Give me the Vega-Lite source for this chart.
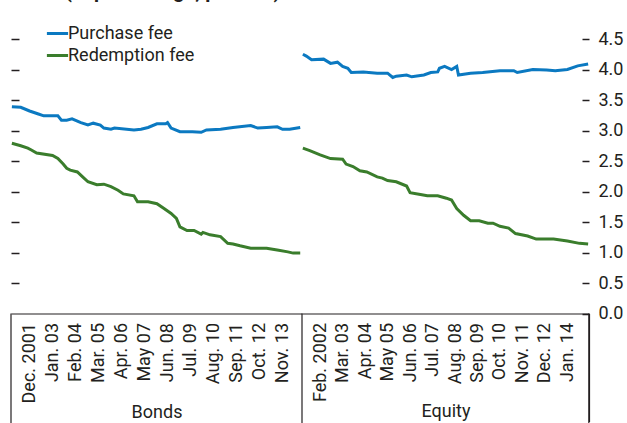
{
  "$schema": "https://vega.github.io/schema/vega-lite/v6.json",
  "autosize": "none",
  "width": 578,
  "height": 274.5,
  "padding": {"left": 11, "top": 39, "right": 38, "bottom": 109.5},
  "title": {"text": "(In percentage, percent)", "anchor": "start", "frame": "group", "fontSize": 20, "fontWeight": "bold", "font": "Roboto", "color": "#231f20", "dx": 54, "offset": 19},
  "config": {
    "view": {"stroke": null},
    "font": "Roboto",
    "axis": {"labelFont": "Roboto", "titleFont": "Roboto", "labelFontSize": 18, "titleFontSize": 18, "titleFontWeight": "normal", "labelColor": "#231f20", "titleColor": "#231f20", "tickColor": "#231f20", "domainColor": "#231f20", "grid": false, "tickCount": 40},
    "legend": {"labelFont": "Roboto", "labelFontSize": 18, "labelColor": "#231f20"}
  },
  "datasets": {
    "fees": [
      {"asset": "Bonds", "series": "Purchase fee", "i": 0, "value": 3.39},
      {"asset": "Bonds", "series": "Purchase fee", "i": 5, "value": 3.38},
      {"asset": "Bonds", "series": "Purchase fee", "i": 10, "value": 3.32},
      {"asset": "Bonds", "series": "Purchase fee", "i": 15, "value": 3.27},
      {"asset": "Bonds", "series": "Purchase fee", "i": 18, "value": 3.24},
      {"asset": "Bonds", "series": "Purchase fee", "i": 26, "value": 3.24},
      {"asset": "Bonds", "series": "Purchase fee", "i": 28, "value": 3.17},
      {"asset": "Bonds", "series": "Purchase fee", "i": 31, "value": 3.17},
      {"asset": "Bonds", "series": "Purchase fee", "i": 34, "value": 3.19},
      {"asset": "Bonds", "series": "Purchase fee", "i": 39, "value": 3.13},
      {"asset": "Bonds", "series": "Purchase fee", "i": 43, "value": 3.09},
      {"asset": "Bonds", "series": "Purchase fee", "i": 46, "value": 3.12},
      {"asset": "Bonds", "series": "Purchase fee", "i": 50, "value": 3.09},
      {"asset": "Bonds", "series": "Purchase fee", "i": 52, "value": 3.04},
      {"asset": "Bonds", "series": "Purchase fee", "i": 56, "value": 3.02},
      {"asset": "Bonds", "series": "Purchase fee", "i": 58, "value": 3.04},
      {"asset": "Bonds", "series": "Purchase fee", "i": 69, "value": 3.01},
      {"asset": "Bonds", "series": "Purchase fee", "i": 73, "value": 3.02},
      {"asset": "Bonds", "series": "Purchase fee", "i": 77, "value": 3.05},
      {"asset": "Bonds", "series": "Purchase fee", "i": 82, "value": 3.11},
      {"asset": "Bonds", "series": "Purchase fee", "i": 87, "value": 3.11},
      {"asset": "Bonds", "series": "Purchase fee", "i": 88, "value": 3.13},
      {"asset": "Bonds", "series": "Purchase fee", "i": 90, "value": 3.04},
      {"asset": "Bonds", "series": "Purchase fee", "i": 95, "value": 2.98},
      {"asset": "Bonds", "series": "Purchase fee", "i": 102, "value": 2.98},
      {"asset": "Bonds", "series": "Purchase fee", "i": 107, "value": 2.97},
      {"asset": "Bonds", "series": "Purchase fee", "i": 110, "value": 3.01},
      {"asset": "Bonds", "series": "Purchase fee", "i": 118, "value": 3.02},
      {"asset": "Bonds", "series": "Purchase fee", "i": 125, "value": 3.05},
      {"asset": "Bonds", "series": "Purchase fee", "i": 135, "value": 3.08},
      {"asset": "Bonds", "series": "Purchase fee", "i": 139, "value": 3.04},
      {"asset": "Bonds", "series": "Purchase fee", "i": 144, "value": 3.05},
      {"asset": "Bonds", "series": "Purchase fee", "i": 150, "value": 3.06},
      {"asset": "Bonds", "series": "Purchase fee", "i": 153, "value": 3.02},
      {"asset": "Bonds", "series": "Purchase fee", "i": 157, "value": 3.02},
      {"asset": "Bonds", "series": "Purchase fee", "i": 163, "value": 3.05},
      {"asset": "Bonds", "series": "Redemption fee", "i": 0, "value": 2.79},
      {"asset": "Bonds", "series": "Redemption fee", "i": 5, "value": 2.75},
      {"asset": "Bonds", "series": "Redemption fee", "i": 9, "value": 2.71},
      {"asset": "Bonds", "series": "Redemption fee", "i": 11, "value": 2.68},
      {"asset": "Bonds", "series": "Redemption fee", "i": 14, "value": 2.63},
      {"asset": "Bonds", "series": "Redemption fee", "i": 23, "value": 2.59},
      {"asset": "Bonds", "series": "Redemption fee", "i": 26, "value": 2.54},
      {"asset": "Bonds", "series": "Redemption fee", "i": 29, "value": 2.45},
      {"asset": "Bonds", "series": "Redemption fee", "i": 31, "value": 2.38},
      {"asset": "Bonds", "series": "Redemption fee", "i": 33, "value": 2.35},
      {"asset": "Bonds", "series": "Redemption fee", "i": 37, "value": 2.32},
      {"asset": "Bonds", "series": "Redemption fee", "i": 40, "value": 2.24},
      {"asset": "Bonds", "series": "Redemption fee", "i": 43, "value": 2.16},
      {"asset": "Bonds", "series": "Redemption fee", "i": 48, "value": 2.11},
      {"asset": "Bonds", "series": "Redemption fee", "i": 52, "value": 2.12},
      {"asset": "Bonds", "series": "Redemption fee", "i": 56, "value": 2.08},
      {"asset": "Bonds", "series": "Redemption fee", "i": 60, "value": 2.02},
      {"asset": "Bonds", "series": "Redemption fee", "i": 63, "value": 1.96},
      {"asset": "Bonds", "series": "Redemption fee", "i": 69, "value": 1.93},
      {"asset": "Bonds", "series": "Redemption fee", "i": 71, "value": 1.83},
      {"asset": "Bonds", "series": "Redemption fee", "i": 77, "value": 1.83},
      {"asset": "Bonds", "series": "Redemption fee", "i": 82, "value": 1.8},
      {"asset": "Bonds", "series": "Redemption fee", "i": 86, "value": 1.72},
      {"asset": "Bonds", "series": "Redemption fee", "i": 90, "value": 1.64},
      {"asset": "Bonds", "series": "Redemption fee", "i": 93, "value": 1.56},
      {"asset": "Bonds", "series": "Redemption fee", "i": 95, "value": 1.42},
      {"asset": "Bonds", "series": "Redemption fee", "i": 99, "value": 1.36},
      {"asset": "Bonds", "series": "Redemption fee", "i": 103, "value": 1.36},
      {"asset": "Bonds", "series": "Redemption fee", "i": 107, "value": 1.3},
      {"asset": "Bonds", "series": "Redemption fee", "i": 108, "value": 1.33},
      {"asset": "Bonds", "series": "Redemption fee", "i": 112, "value": 1.29},
      {"asset": "Bonds", "series": "Redemption fee", "i": 118, "value": 1.26},
      {"asset": "Bonds", "series": "Redemption fee", "i": 122, "value": 1.15},
      {"asset": "Bonds", "series": "Redemption fee", "i": 125, "value": 1.14},
      {"asset": "Bonds", "series": "Redemption fee", "i": 129, "value": 1.11},
      {"asset": "Bonds", "series": "Redemption fee", "i": 135, "value": 1.07},
      {"asset": "Bonds", "series": "Redemption fee", "i": 144, "value": 1.07},
      {"asset": "Bonds", "series": "Redemption fee", "i": 150, "value": 1.04},
      {"asset": "Bonds", "series": "Redemption fee", "i": 156, "value": 1.01},
      {"asset": "Bonds", "series": "Redemption fee", "i": 159, "value": 0.99},
      {"asset": "Bonds", "series": "Redemption fee", "i": 163, "value": 0.99},
      {"asset": "Equity", "series": "Purchase fee", "i": 0, "value": 4.25},
      {"asset": "Equity", "series": "Purchase fee", "i": 2, "value": 4.22},
      {"asset": "Equity", "series": "Purchase fee", "i": 5, "value": 4.16},
      {"asset": "Equity", "series": "Purchase fee", "i": 12, "value": 4.17},
      {"asset": "Equity", "series": "Purchase fee", "i": 16, "value": 4.1},
      {"asset": "Equity", "series": "Purchase fee", "i": 20, "value": 4.12},
      {"asset": "Equity", "series": "Purchase fee", "i": 23, "value": 4.05},
      {"asset": "Equity", "series": "Purchase fee", "i": 26, "value": 4.02},
      {"asset": "Equity", "series": "Purchase fee", "i": 28, "value": 3.95},
      {"asset": "Equity", "series": "Purchase fee", "i": 35, "value": 3.96},
      {"asset": "Equity", "series": "Purchase fee", "i": 43, "value": 3.94},
      {"asset": "Equity", "series": "Purchase fee", "i": 49, "value": 3.94},
      {"asset": "Equity", "series": "Purchase fee", "i": 52, "value": 3.87},
      {"asset": "Equity", "series": "Purchase fee", "i": 54, "value": 3.89},
      {"asset": "Equity", "series": "Purchase fee", "i": 60, "value": 3.91},
      {"asset": "Equity", "series": "Purchase fee", "i": 63, "value": 3.88},
      {"asset": "Equity", "series": "Purchase fee", "i": 70, "value": 3.91},
      {"asset": "Equity", "series": "Purchase fee", "i": 74, "value": 3.95},
      {"asset": "Equity", "series": "Purchase fee", "i": 78, "value": 3.96},
      {"asset": "Equity", "series": "Purchase fee", "i": 79, "value": 4.02},
      {"asset": "Equity", "series": "Purchase fee", "i": 82, "value": 4.05},
      {"asset": "Equity", "series": "Purchase fee", "i": 86, "value": 4.0},
      {"asset": "Equity", "series": "Purchase fee", "i": 89, "value": 4.05},
      {"asset": "Equity", "series": "Purchase fee", "i": 90, "value": 3.91},
      {"asset": "Equity", "series": "Purchase fee", "i": 97, "value": 3.94},
      {"asset": "Equity", "series": "Purchase fee", "i": 104, "value": 3.95},
      {"asset": "Equity", "series": "Purchase fee", "i": 114, "value": 3.98},
      {"asset": "Equity", "series": "Purchase fee", "i": 122, "value": 3.98},
      {"asset": "Equity", "series": "Purchase fee", "i": 124, "value": 3.95},
      {"asset": "Equity", "series": "Purchase fee", "i": 133, "value": 4.0},
      {"asset": "Equity", "series": "Purchase fee", "i": 141, "value": 3.99},
      {"asset": "Equity", "series": "Purchase fee", "i": 146, "value": 3.98},
      {"asset": "Equity", "series": "Purchase fee", "i": 153, "value": 4.0},
      {"asset": "Equity", "series": "Purchase fee", "i": 159, "value": 4.06},
      {"asset": "Equity", "series": "Purchase fee", "i": 165, "value": 4.09},
      {"asset": "Equity", "series": "Redemption fee", "i": 0, "value": 2.71},
      {"asset": "Equity", "series": "Redemption fee", "i": 4, "value": 2.67},
      {"asset": "Equity", "series": "Redemption fee", "i": 10, "value": 2.6},
      {"asset": "Equity", "series": "Redemption fee", "i": 16, "value": 2.54},
      {"asset": "Equity", "series": "Redemption fee", "i": 23, "value": 2.53},
      {"asset": "Equity", "series": "Redemption fee", "i": 25, "value": 2.45},
      {"asset": "Equity", "series": "Redemption fee", "i": 29, "value": 2.41},
      {"asset": "Equity", "series": "Redemption fee", "i": 33, "value": 2.34},
      {"asset": "Equity", "series": "Redemption fee", "i": 37, "value": 2.32},
      {"asset": "Equity", "series": "Redemption fee", "i": 43, "value": 2.24},
      {"asset": "Equity", "series": "Redemption fee", "i": 46, "value": 2.22},
      {"asset": "Equity", "series": "Redemption fee", "i": 49, "value": 2.18},
      {"asset": "Equity", "series": "Redemption fee", "i": 54, "value": 2.16},
      {"asset": "Equity", "series": "Redemption fee", "i": 60, "value": 2.09},
      {"asset": "Equity", "series": "Redemption fee", "i": 62, "value": 1.98},
      {"asset": "Equity", "series": "Redemption fee", "i": 68, "value": 1.95},
      {"asset": "Equity", "series": "Redemption fee", "i": 72, "value": 1.93},
      {"asset": "Equity", "series": "Redemption fee", "i": 78, "value": 1.93},
      {"asset": "Equity", "series": "Redemption fee", "i": 83, "value": 1.89},
      {"asset": "Equity", "series": "Redemption fee", "i": 86, "value": 1.86},
      {"asset": "Equity", "series": "Redemption fee", "i": 89, "value": 1.72},
      {"asset": "Equity", "series": "Redemption fee", "i": 93, "value": 1.61},
      {"asset": "Equity", "series": "Redemption fee", "i": 97, "value": 1.52},
      {"asset": "Equity", "series": "Redemption fee", "i": 102, "value": 1.52},
      {"asset": "Equity", "series": "Redemption fee", "i": 107, "value": 1.48},
      {"asset": "Equity", "series": "Redemption fee", "i": 110, "value": 1.48},
      {"asset": "Equity", "series": "Redemption fee", "i": 114, "value": 1.43},
      {"asset": "Equity", "series": "Redemption fee", "i": 119, "value": 1.4},
      {"asset": "Equity", "series": "Redemption fee", "i": 123, "value": 1.31},
      {"asset": "Equity", "series": "Redemption fee", "i": 130, "value": 1.27},
      {"asset": "Equity", "series": "Redemption fee", "i": 135, "value": 1.22},
      {"asset": "Equity", "series": "Redemption fee", "i": 145, "value": 1.22},
      {"asset": "Equity", "series": "Redemption fee", "i": 153, "value": 1.19},
      {"asset": "Equity", "series": "Redemption fee", "i": 160, "value": 1.15},
      {"asset": "Equity", "series": "Redemption fee", "i": 165, "value": 1.14}
    ],
    "panelEdges": [{"edge": -0.5}, {"edge": 164}],
    "equityEdges": [{"edge": 165.4}]
  },
  "layer": [
    {
      "layer": [
        {
          "data": {"name": "fees"},
          "transform": [{"filter": "datum.asset === 'Bonds'"}],
          "mark": {"type": "line", "strokeWidth": 3},
          "encoding": {
            "x": {"field": "i", "type": "quantitative", "scale": {"domain": [-0.5, 164], "range": [0, 291], "nice": false, "zero": false},
              "axis": {"orient": "bottom", "title": "Bonds", "values": [10, 23, 36, 49, 62, 75, 88, 101, 114, 127, 140, 153],
                "labelExpr": "['Dec. 2001','Jan. 03','Feb. 04','Mar. 05','Apr. 06','May 07','Jun. 08','Jul. 09','Aug. 10','Sep. 11','Oct. 12','Nov. 13'][round((datum.value - 10) / 13)]",
                "labelAngle": 270, "labelAlign": "right", "labelBaseline": "middle", "ticks": false, "domain": true, "domainWidth": 1.2, "labelPadding": 9, "titlePadding": 1, "labelFlush": false, "labelOverlap": false}},
            "y": {"field": "value", "type": "quantitative", "scale": {"domain": [0, 4.5], "nice": false},
              "axis": {"orient": "left", "title": null, "values": [0.5, 1, 1.5, 2, 2.5, 3, 3.5, 4, 4.5], "labels": false, "domain": false, "tickSize": -8, "tickWidth": 1.5}},
            "color": {"field": "series", "type": "nominal",
              "scale": {"domain": ["Purchase fee", "Redemption fee"], "range": ["#0b79c1", "#3a7d2c"]},
              "legend": {"orient": "none", "legendX": 34, "legendY": -18, "title": null, "symbolType": "stroke", "symbolStrokeWidth": 3, "symbolSize": 450, "rowPadding": 0, "labelOffset": -2, "padding": 0}}
          }
        },
        {
          "data": {"name": "panelEdges"},
          "mark": {"type": "rule", "color": "#231f20", "strokeWidth": 1.2},
          "encoding": {
            "x": {"field": "edge", "type": "quantitative", "scale": {"domain": [-0.5, 164], "range": [0, 291], "nice": false, "zero": false}},
            "y": {"datum": 0},
            "y2": {"datum": -1.8}
          }
        }
      ]
    },
    {
      "data": {"name": "fees"},
      "transform": [{"filter": "datum.asset === 'Equity'"}],
      "mark": {"type": "line", "strokeWidth": 3},
      "encoding": {
        "x": {"field": "i", "type": "quantitative", "scale": {"domain": [-0.5, 165.5], "range": [291, 578], "nice": false, "zero": false},
          "axis": {"orient": "bottom", "title": "Equity", "values": [10, 23, 36, 49, 62, 75, 88, 101, 114, 127, 140, 153],
            "labelExpr": "['Feb. 2002','Mar. 03','Apr. 04','May 05','Jun. 06','Jul. 07','Aug. 08','Sep. 09','Oct. 10','Nov. 11','Dec. 12','Jan. 14'][round((datum.value - 10) / 13)]",
            "labelAngle": 270, "labelAlign": "right", "labelBaseline": "middle", "ticks": false, "domain": true, "domainWidth": 1.2, "labelPadding": 9, "titlePadding": 1, "labelFlush": false, "labelOverlap": false}},
        "y": {"field": "value", "type": "quantitative", "scale": {"domain": [0, 4.5], "nice": false},
          "axis": {"orient": "right", "title": null, "values": [0, 0.5, 1, 1.5, 2, 2.5, 3, 3.5, 4, 4.5], "format": ".1f", "domain": false, "tickSize": -7, "tickWidth": 1.5, "labelPadding": 16, "labelFlush": false}},
        "color": {"field": "series", "type": "nominal",
          "scale": {"domain": ["Purchase fee", "Redemption fee"], "range": ["#0b79c1", "#3a7d2c"]}}
      }
    },
    {
      "data": {"name": "equityEdges"},
      "mark": {"type": "rule", "color": "#231f20", "strokeWidth": 1.2, "clip": false},
      "encoding": {
        "x": {"field": "edge", "type": "quantitative", "scale": {"domain": [-0.5, 165.5], "range": [291, 578], "nice": false, "zero": false},
          "axis": {"orient": "bottom", "title": null, "values": [165.4], "labels": false, "domain": false, "ticks": true, "tickSize": 108, "tickWidth": 1.2, "tickColor": "#231f20", "grid": false}},
        "y": {"datum": 0, "axis": null},
        "y2": {"datum": -1.8}
      }
    }
  ],
  "resolve": {"scale": {"x": "independent"}, "axis": {"x": "independent", "y": "independent"}}
}
